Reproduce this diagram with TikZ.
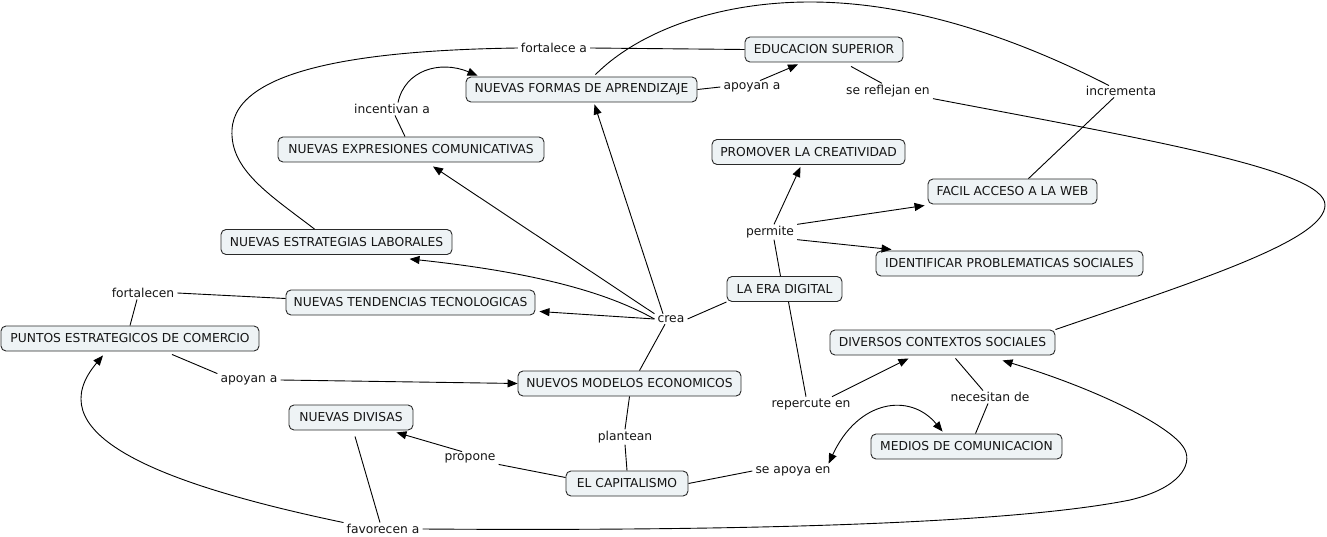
\documentclass[tikz,border=0pt]{standalone}
\usepackage{fontspec}
\setmainfont{DejaVu Sans}
\usetikzlibrary{arrows.meta,calc}
\definecolor{cfill}{HTML}{EEF3F5}
\definecolor{cline}{HTML}{2A2A2A}
\definecolor{ctext}{HTML}{151515}
\begin{document}
\begin{tikzpicture}[x=1pt,y=-1pt,
  concept/.style={draw=cline, fill=cfill, rounded corners=5pt, line width=0.9pt,
    minimum height=25pt, inner xsep=4pt, inner ysep=2pt, text=ctext,
    font=\fontsize{12.3}{14}\selectfont},
  lp/.style={inner xsep=3pt, inner ysep=1.5pt, text=ctext,
    font=\fontsize{12.3}{14}\selectfont},
  link/.style={draw=black, line width=0.9pt},
  arr/.style={link, -{Triangle[length=10pt,width=8pt]}},
  arrboth/.style={link, {Triangle[length=10pt,width=8pt]}-{Triangle[length=10pt,width=8pt]}}
]
\useasboundingbox (0,0) rectangle (1327,537);

% concepts
\node[concept,minimum width=158pt] (es)  at (824,49.5)   {EDUCACION SUPERIOR};
\node[concept,minimum width=231pt] (nfa) at (581.5,89.5) {NUEVAS FORMAS DE APRENDIZAJE};
\node[concept,minimum width=266pt] (nec) at (411,149.5)  {NUEVAS EXPRESIONES COMUNICATIVAS};
\node[concept,minimum width=193pt] (pro) at (808.5,152)  {PROMOVER LA CREATIVIDAD};
\node[concept,minimum width=169pt] (fac) at (1012.5,191.5) {FACIL ACCESO A LA WEB};
\node[concept,minimum width=231pt] (nel) at (336.5,242)  {NUEVAS ESTRATEGIAS LABORALES};
\node[concept,minimum width=267pt] (ide) at (1009.5,263.5) {IDENTIFICAR PROBLEMATICAS SOCIALES};
\node[concept,minimum width=115pt] (led) at (784.5,289)  {LA ERA DIGITAL};
\node[concept,minimum width=249pt] (ntt) at (410.5,302.5) {NUEVAS TENDENCIAS TECNOLOGICAS};
\node[concept,minimum width=258pt] (pec) at (130,338.5)  {PUNTOS ESTRATEGICOS DE COMERCIO};
\node[concept,minimum width=225pt] (dcs) at (942.5,342.5) {DIVERSOS CONTEXTOS SOCIALES};
\node[concept,minimum width=223pt] (nme) at (629.5,383.5) {NUEVOS MODELOS ECONOMICOS};
\node[concept,minimum width=124pt] (ndv) at (351,417.5)  {NUEVAS DIVISAS};
\node[concept,minimum width=191pt] (med) at (966.5,446.5) {MEDIOS DE COMUNICACION};
\node[concept,minimum width=122pt] (cap) at (627,483.5)  {EL CAPITALISMO};

% linking phrases
\node[lp] (lfort)  at (554,48)   {fortalece a};
\node[lp] (lapo1)  at (752,87)   {apoyan a};
\node[lp] (lref)   at (888,91)   {se reflejan en};
\node[lp] (linc)   at (1121,91)  {incrementa};
\node[lp] (lincv)  at (392,109)  {incentivan a};
\node[lp] (lperm)  at (770,232)  {permite};
\node[lp] (lcrea)  at (671,319)  {crea};
\node[lp] (lfortn) at (143,293)  {fortalecen};
\node[lp] (lapo2)  at (249,380)  {apoyan a};
\node[lp] (lplan)  at (625,437)  {plantean};
\node[lp] (lprop)  at (470,458)  {propone};
\node[lp] (lrep)   at (811,404)  {repercute en};
\node[lp] (lnec)   at (990,397)  {necesitan de};
\node[lp] (lsea)   at (793,471)  {se apoya en};
\node[lp] (lfav)   at (383,529)  {favorecen a};

% connectors
\draw[link] (es.west) -- (lfort.east);
\draw[link] (lfort.west) .. controls (380,50) and (235,65) .. (232,130)
  .. controls (230,170) and (270,195) .. ($(nel.north)+(-22,0)$);

\draw[link] (nfa.east) -- (lapo1.west);
\draw[arr] ($(lapo1.north)+(8,0)$) -- ($(es.south)+(-26,2)$);

\draw[link] ($(es.south)+(27,4)$) -- ($(lref.north)+(-6,0)$);
\draw[link] (lref.south east) .. controls (1150,140) and (1325,170) .. (1325,205)
  .. controls (1325,240) and (1200,280) .. (dcs.north east);

\draw[link] ($(fac.north)+(16,0)$) -- ($(linc.south)+(-7,0)$);
\draw[link] ($(linc.north)+(-12,1)$) .. controls (1000,30) and (900,2) .. (810,2)
  .. controls (720,2) and (640,30) .. ($(nfa.north)+(14,-2)$);

\draw[link] ($(nec.north)+(-6,0)$) -- ($(lincv.south)+(3,0)$);
\draw[arr] ($(lincv.north)+(6,0)$) .. controls (405,70) and (440,60) .. ($(nfa.north west)+(12,-1)$);

\draw[link] (led.south west) -- (lcrea.east);
\draw[arr] ($(lcrea.north)+(-8,0)$) -- ($(nfa.south)+(13,2)$);
\draw[arr] (lcrea.north west) -- ($(nec.south)+(22,4)$);
\draw[arr] (lcrea.west) .. controls (620,300) and (560,275) .. ($(nel.south)+(73,4)$);
\draw[arr] (lcrea.west) -- ($(ntt.east)+(4,9)$);
\draw[link] ($(lcrea.south)+(-6,0)$) -- ($(nme.north)+(10,0)$);

\draw[link] ($(led.north)+(-4,0)$) -- ($(lperm.south)+(4,0)$);
\draw[arr] ($(lperm.north)+(4,0)$) -- ($(pro.south)+(-8,2)$);
\draw[arr] (lperm.north east) -- ($(fac.west)+(-3,14)$);
\draw[arr] (lperm.south east) -- ($(ide.north west)+(16,-1)$);

\draw[link] ($(led.south)+(4,0)$) -- ($(lrep.north)+(-5,0)$);
\draw[arr] ($(lrep.north)+(21,0)$) -- ($(dcs.south)+(-34,3)$);

\draw[link] ($(dcs.south)+(13,3)$) -- ($(lnec.north)+(-7,0)$);
\draw[link] ($(lnec.south)+(-2,0)$) -- ($(med.north)+(9,0)$);

\draw[link] ($(ntt.west)+(0,-4)$) -- (lfortn.east);
\draw[link] ($(lfortn.south)+(-6,0)$) -- (pec.north);

\draw[link] ($(pec.south)+(42,3)$) -- (lapo2.north west);
\draw[arr] (lapo2.east) -- (nme.west);

\draw[link] (nme.south) -- (lplan.north);
\draw[link] (lplan.south) -- (cap.north);

\draw[link] ($(cap.west)+(0,-6)$) -- (lprop.south east);
\draw[arr] ($(lprop.north)+(-8,0)$) -- ($(ndv.south east)+(-17,2)$);

\draw[link] (cap.east) -- (lsea.west);
\draw[arrboth] ($(lsea.north east)+(-5,-1)$) .. controls (858,400) and (910,392) .. ($(med.north west)+(72,-2)$);

\draw[link] ($(ndv.south)+(4,6)$) -- ($(lfav.north)+(-3,0)$);
\draw[arr] (lfav.north west) .. controls (140,480) and (40,430) .. ($(pec.south)+(-27,4)$);
\draw[arr] (lfav.east) .. controls (700,531) and (1000,526) .. (1130,500)
  .. controls (1180,488) and (1192,465) .. (1185,450)
  .. controls (1175,428) and (1100,390) .. ($(dcs.south)+(60,5)$);
\end{tikzpicture}
\end{document}
